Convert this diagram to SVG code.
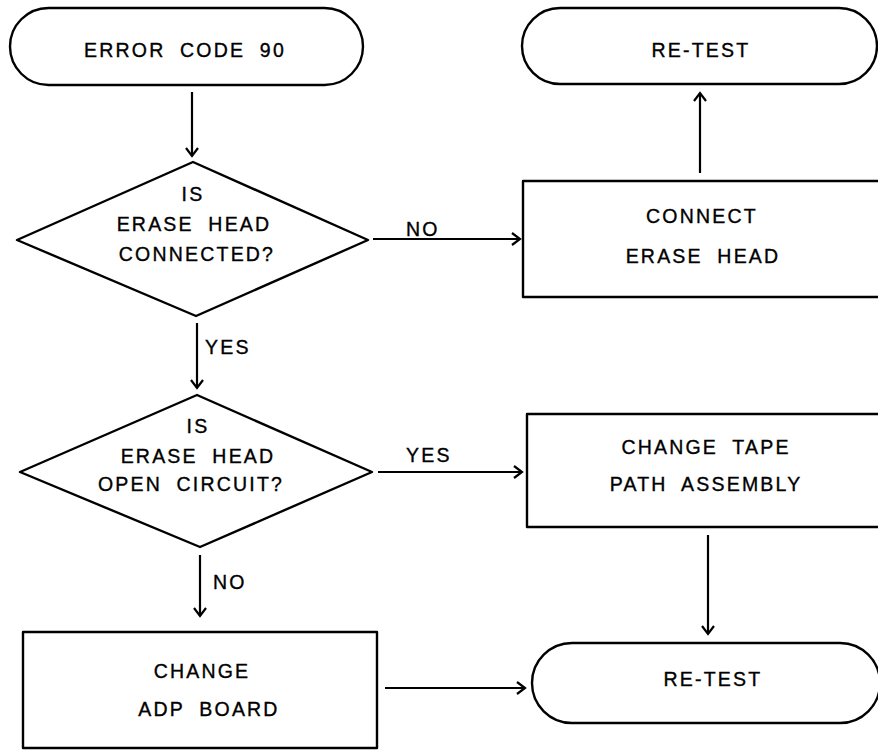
<svg xmlns="http://www.w3.org/2000/svg" width="878" height="750" viewBox="0 0 878 750">
  <style>
    .shape { fill: #ffffff; stroke: #000000; stroke-width: 2.4; stroke-linejoin: round; }
    .conn { fill: none; stroke: #000000; stroke-width: 2.2; }
    .lbl { font-family: "Liberation Sans", Arial, sans-serif; font-size: 19.5px; fill: #000000; stroke: #000000; stroke-width: 0.35; letter-spacing: 2.2px; word-spacing: 7px; }
    .mid { text-anchor: middle; }
  </style>
  <defs>
    <marker id="arrow" markerUnits="userSpaceOnUse" markerWidth="16" markerHeight="16" viewBox="-10 -8 12 16" refX="0" refY="0" orient="auto">
      <polyline points="-8,-6 0,0 -8,6" fill="none" stroke="#000000" stroke-width="2.2" stroke-linejoin="miter"/>
    </marker>
  </defs>
  <rect x="0" y="0" width="878" height="750" fill="#ffffff"/>

  <g id="connectors">
    <line class="conn" x1="192" y1="92" x2="192" y2="156" marker-end="url(#arrow)"/>
    <line class="conn" x1="373" y1="239" x2="520" y2="239" marker-end="url(#arrow)"/>
    <line class="conn" x1="700" y1="173" x2="700" y2="93" marker-end="url(#arrow)"/>
    <line class="conn" x1="197" y1="323" x2="197" y2="388" marker-end="url(#arrow)"/>
    <line class="conn" x1="378" y1="472" x2="522" y2="472" marker-end="url(#arrow)"/>
    <line class="conn" x1="200" y1="555" x2="200" y2="616" marker-end="url(#arrow)"/>
    <line class="conn" x1="385" y1="688" x2="525" y2="688" marker-end="url(#arrow)"/>
    <line class="conn" x1="708" y1="535" x2="708" y2="634" marker-end="url(#arrow)"/>
    <text class="lbl" x="406" y="236">NO</text>
    <text class="lbl" x="205" y="354">YES</text>
    <text class="lbl" x="406" y="462">YES</text>
    <text class="lbl" x="213" y="589">NO</text>
  </g>

  <g id="start">
    <rect class="shape" x="10" y="8" width="353" height="77" rx="38.5" ry="38.5"/>
    <text class="lbl mid" x="185" y="57">ERROR CODE 90</text>
  </g>

  <g id="retest-top">
    <rect class="shape" x="522" y="8" width="355" height="76" rx="38" ry="38"/>
    <text class="lbl mid" x="701" y="57">RE-TEST</text>
  </g>

  <g id="decision-connected">
    <polygon class="shape" points="193,162 368,240 196,316 17,240"/>
    <text class="lbl mid" x="193" y="201">IS</text>
    <text class="lbl mid" x="194" y="231">ERASE HEAD</text>
    <text class="lbl mid" x="197" y="261">CONNECTED?</text>
  </g>

  <g id="connect-erase-head">
    <rect class="shape" x="523" y="181" width="365" height="116"/>
    <text class="lbl mid" x="702" y="223">CONNECT</text>
    <text class="lbl mid" x="703" y="263">ERASE HEAD</text>
  </g>

  <g id="decision-open-circuit">
    <polygon class="shape" points="197,395 372,472 200,547 20,472"/>
    <text class="lbl mid" x="198" y="433">IS</text>
    <text class="lbl mid" x="198" y="463">ERASE HEAD</text>
    <text class="lbl mid" x="191" y="491">OPEN CIRCUIT?</text>
  </g>

  <g id="change-tape-path">
    <rect class="shape" x="527" y="414" width="361" height="113"/>
    <text class="lbl mid" x="706" y="454">CHANGE TAPE</text>
    <text class="lbl mid" x="706" y="491">PATH ASSEMBLY</text>
  </g>

  <g id="change-adp-board">
    <rect class="shape" x="23" y="632" width="354" height="116"/>
    <text class="lbl mid" x="202" y="678">CHANGE</text>
    <text class="lbl mid" x="209" y="716">ADP BOARD</text>
  </g>

  <g id="retest-bottom">
    <rect class="shape" x="532" y="643" width="348" height="80" rx="40" ry="40"/>
    <text class="lbl mid" x="713" y="686">RE-TEST</text>
  </g>
</svg>
